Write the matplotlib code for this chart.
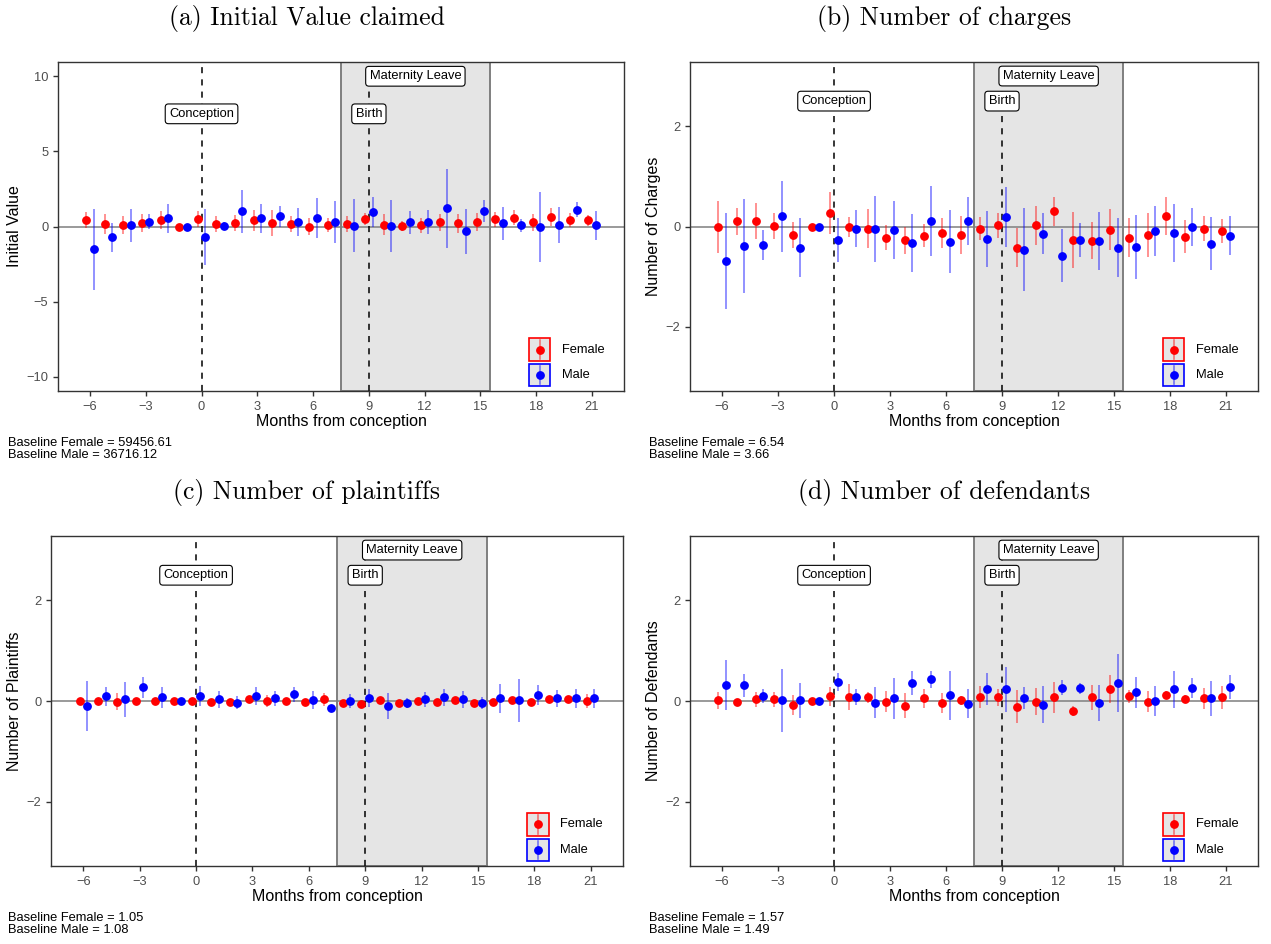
import matplotlib
matplotlib.use("Agg")
import matplotlib.pyplot as plt
from matplotlib.patches import Rectangle

plt.rcParams['font.family'] = ['Liberation Sans', 'DejaVu Sans']

months = list(range(-6, 22))

# (a) Initial value claimed
iv_f = [0.44, 0.18, 0.09, 0.24, 0.44, 0.0, 0.49, 0.18, 0.24, 0.40, 0.24, 0.18, 0.0, 0.09,
        0.18, 0.49, 0.13, 0.04, 0.07, 0.27, 0.20, 0.31, 0.49, 0.58, 0.27, 0.62, 0.44, 0.40]
iv_f_ci = [0.55, 0.66, 0.60, 0.60, 0.58, 0.0, 0.55, 0.52, 0.53, 0.73, 0.88, 0.53, 0.56, 0.48,
           0.52, 0.42, 0.70, 0.35, 0.51, 0.56, 0.65, 0.58, 0.50, 0.50, 0.56, 0.60, 0.44, 0.36]
iv_m = [-1.53, -0.73, 0.09, 0.33, 0.55, 0.0, -0.69, 0.02, 1.00, 0.55, 0.69, 0.31, 0.58, 0.28,
        0.05, 0.97, 0.04, 0.27, 0.31, 1.20, -0.33, 1.04, 0.20, 0.09, -0.04, 0.09, 1.13, 0.07]
iv_m_ci = [2.70, 0.97, 1.10, 0.50, 0.95, 0.0, 1.84, 0.27, 1.40, 0.96, 0.70, 0.94, 1.34, 1.40,
           1.78, 1.00, 1.75, 0.78, 0.78, 2.62, 1.50, 0.73, 1.12, 0.43, 2.33, 1.20, 0.52, 0.99]

# (b) Number of charges
ch_f = [-0.01, 0.10, 0.11, 0.01, -0.17, 0.0, 0.27, -0.01, -0.04, -0.22, -0.27, -0.18, -0.13, -0.17,
        -0.04, 0.02, -0.42, 0.02, 0.30, -0.27, -0.28, -0.06, -0.22, -0.17, 0.21, -0.20, -0.04, -0.09]
ch_f_ci = [0.52, 0.27, 0.35, 0.26, 0.25, 0.0, 0.41, 0.20, 0.39, 0.24, 0.27, 0.23, 0.29, 0.38,
           0.23, 0.25, 0.39, 0.38, 0.29, 0.56, 0.37, 0.40, 0.39, 0.44, 0.38, 0.33, 0.25, 0.23]
ch_m = [-0.69, -0.39, -0.37, 0.20, -0.42, 0.0, -0.27, -0.04, -0.05, -0.07, -0.33, 0.11, -0.30, 0.11,
        -0.25, 0.19, -0.46, -0.14, -0.58, -0.27, -0.29, -0.42, -0.41, -0.09, -0.13, -0.01, -0.34, -0.18]
ch_m_ci = [0.95, 0.94, 0.30, 0.71, 0.59, 0.0, 0.43, 0.37, 0.66, 0.57, 0.58, 0.69, 0.62, 0.47,
           0.55, 0.59, 0.82, 0.40, 0.53, 0.33, 0.58, 0.59, 0.64, 0.50, 0.57, 0.37, 0.53, 0.38]

# (c) Number of plaintiffs
pl_f = [0.0, 0.0, -0.01, 0.0, 0.0, 0.0, 0.0, -0.01, -0.01, 0.04, 0.0, 0.0, -0.01, 0.03,
        -0.03, -0.05, 0.01, -0.03, 0.0, -0.01, 0.02, -0.03, -0.01, 0.01, -0.01, 0.04, 0.03, 0.0]
pl_f_ci = [0.04, 0.04, 0.16, 0.03, 0.05, 0.0, 0.06, 0.05, 0.04, 0.06, 0.12, 0.04, 0.05, 0.12,
           0.05, 0.05, 0.05, 0.05, 0.04, 0.05, 0.05, 0.05, 0.05, 0.05, 0.05, 0.05, 0.05, 0.14]
pl_m = [-0.10, 0.09, 0.03, 0.27, 0.07, 0.0, 0.10, 0.03, -0.03, 0.10, 0.05, 0.13, 0.02, -0.14,
        0.0, 0.06, -0.10, -0.04, 0.03, 0.07, 0.03, -0.04, 0.05, 0.01, 0.12, 0.05, 0.05, 0.05]
pl_m_ci = [0.50, 0.18, 0.34, 0.21, 0.20, 0.0, 0.20, 0.16, 0.12, 0.18, 0.14, 0.14, 0.17, 0.04,
           0.13, 0.18, 0.25, 0.09, 0.15, 0.17, 0.17, 0.12, 0.29, 0.43, 0.20, 0.17, 0.19, 0.18]

# (d) Number of defendants
df_f = [0.01, -0.02, 0.03, 0.03, -0.08, 0.0, 0.09, 0.08, 0.07, -0.01, -0.09, 0.05, -0.04, 0.01,
        0.08, 0.07, -0.11, -0.01, 0.07, -0.19, 0.07, 0.24, 0.09, -0.01, 0.11, 0.04, 0.05, 0.07]
df_f_ci = [0.17, 0.05, 0.15, 0.15, 0.19, 0.0, 0.19, 0.25, 0.10, 0.20, 0.25, 0.19, 0.20, 0.09,
           0.21, 0.16, 0.32, 0.26, 0.30, 0.10, 0.25, 0.27, 0.13, 0.20, 0.08, 0.08, 0.21, 0.23]
df_m = [0.32, 0.31, 0.10, 0.01, 0.01, 0.0, 0.38, 0.08, -0.03, 0.05, 0.36, 0.43, 0.11, -0.05,
        0.24, 0.23, 0.06, -0.07, 0.26, 0.25, -0.04, 0.36, 0.17, 0.0, 0.23, 0.25, 0.05, 0.28]
df_m_ci = [0.49, 0.23, 0.14, 0.63, 0.34, 0.0, 0.18, 0.16, 0.31, 0.41, 0.24, 0.17, 0.49, 0.29,
           0.31, 0.44, 0.21, 0.36, 0.15, 0.11, 0.35, 0.57, 0.31, 0.29, 0.36, 0.20, 0.35, 0.24]

titles = ["(a) Initial Value claimed", "(b) Number of charges",
          "(c) Number of plaintiffs", "(d) Number of defendants"]
ylabels = ["Initial Value", "Number of Charges", "Number of Plaintiffs", "Number of Defendants"]
baselines = [("59456.61", "36716.12"), ("6.54", "3.66"), ("1.05", "1.08"), ("1.57", "1.49")]
ylims = [10.95, 3.28, 3.28, 3.28]
yticks = [[-10, -5, 0, 5, 10], [-2, 0, 2], [-2, 0, 2], [-2, 0, 2]]
label_y = [(7.5, 10.0), (2.5, 3.0), (2.5, 3.0), (2.5, 3.0)]

series = [(iv_f, iv_f_ci, iv_m, iv_m_ci), (ch_f, ch_f_ci, ch_m, ch_m_ci),
          (pl_f, pl_f_ci, pl_m, pl_m_ci), (df_f, df_f_ci, df_m, df_m_ci)]

W, H = 1271, 944
fig = plt.figure(figsize=(W / 100, H / 100), dpi=100)

# axes boxes in pixels: left, right, top, bottom
boxes = [(58, 624, 62, 391), (690, 1258, 62, 391),
         (51, 623, 536, 866), (690, 1258, 536, 866)]

for i in range(4):
    l, r, t, b = boxes[i]
    ax = fig.add_axes([l / W, 1 - b / H, (r - l) / W, (b - t) / H])
    fem, fem_ci, mal, mal_ci = series[i]

    ax.axvspan(7.5, 15.5, facecolor="#E5E5E5", edgecolor="#7F7F7F", lw=1.4, zorder=0)
    ax.axhline(0, color="#7F7F7F", lw=1.1, zorder=1)
    ax.axvline(0, color="black", ls=(0, (4, 4)), lw=1.1, zorder=1)
    ax.axvline(9, color="black", ls=(0, (4, 4)), lw=1.1, zorder=1)

    xf = [m - 0.2 for m in months]
    xm = [m + 0.2 for m in months]
    ax.errorbar(xf, fem, yerr=fem_ci, fmt="none", ecolor="red", alpha=0.5, elinewidth=1.2, zorder=2)
    ax.errorbar(xm, mal, yerr=mal_ci, fmt="none", ecolor="blue", alpha=0.5, elinewidth=1.2, zorder=2)
    ax.plot(xf, fem, "o", color="red", ms=5.3, zorder=3)
    ax.plot(xm, mal, "o", color="blue", ms=5.3, zorder=3)

    box = dict(boxstyle="round,pad=0.3,rounding_size=0.25", fc="white", ec="black", lw=0.8)
    ax.text(0, label_y[i][0], "Conception", ha="center", va="center", fontsize=9.3, bbox=box, zorder=4)
    ax.text(9, label_y[i][0], "Birth", ha="center", va="center", fontsize=9.3, bbox=box, zorder=4)
    ax.text(11.5, label_y[i][1], "Maternity Leave", ha="center", va="center", fontsize=9.3, bbox=box, zorder=4)

    ax.set_xlim(-7.72, 22.72)
    ax.set_ylim(-ylims[i], ylims[i])
    ax.set_xticks(range(-6, 22, 3))
    ax.set_yticks(yticks[i])
    ax.tick_params(colors="#333333", labelcolor="#4D4D4D", labelsize=9.3, length=3.5, width=1)
    for sp in ax.spines.values():
        sp.set_color("#333333")
        sp.set_linewidth(1)
    ax.set_xlabel("Months from conception", fontsize=11.5, labelpad=1)
    ax.set_ylabel(ylabels[i], fontsize=11.5, labelpad=3)

    # legend keys
    for k, (lab, col) in enumerate([("Female", "red"), ("Male", "blue")]):
        y0 = 0.092 - k * 0.077
        ax.add_patch(Rectangle((0.833, y0), 0.037, 0.068, transform=ax.transAxes,
                               facecolor="#E5E5E5", edgecolor=col, lw=1.2, zorder=5))
        ax.plot([0.8515, 0.8515], [y0 + 0.006, y0 + 0.062], transform=ax.transAxes,
                color=col, alpha=0.5, lw=1.2, zorder=6)
        ax.plot([0.8515], [y0 + 0.034], "o", transform=ax.transAxes, color=col, ms=5.3, zorder=7)
        ax.text(0.89, y0 + 0.034, lab, transform=ax.transAxes, ha="left", va="center", fontsize=9.3)

    # panel title, centred over the whole cell
    cell_left = 0 if i % 2 == 0 else 640
    fig.text(((cell_left + r) / 2 - 5) / W, 1 - (t - 44) / H, titles[i], ha="center", va="center",
             fontsize=18.5, family="cmr10")
    # baseline note
    xb = 8 if i % 2 == 0 else 649
    fig.text(xb / W, 1 - (b + 46) / H,
             "Baseline Female = %s\nBaseline Male = %s" % baselines[i],
             ha="left", va="top", fontsize=9.3, linespacing=0.95)

fig.savefig("out.png", dpi=100)
